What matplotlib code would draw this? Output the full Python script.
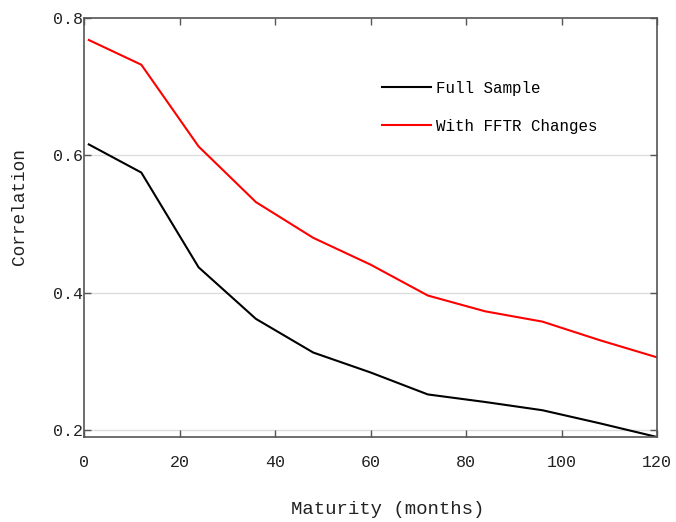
import matplotlib
matplotlib.use("Agg")
import matplotlib.pyplot as plt

# maturities in months
maturity = [1, 12, 24, 36, 48, 60, 72, 84, 96, 108, 120]
full_sample = [0.616, 0.575, 0.437, 0.362, 0.313, 0.284, 0.252, 0.241, 0.229, 0.210, 0.190]
fftr_changes = [0.768, 0.732, 0.613, 0.532, 0.480, 0.441, 0.396, 0.373, 0.358, 0.331, 0.306]

x_ticks = [0, 20, 40, 60, 80, 100, 120]
y_ticks = [0.2, 0.4, 0.6, 0.8]

plt.rcParams['font.family'] = ['Liberation Mono', 'DejaVu Sans Mono']

fig = plt.figure(figsize=(6.76, 5.22), dpi=100)
ax = fig.add_axes([0.1243, 0.1628, 0.8476, 0.8027])

ax.plot(maturity, full_sample, color='black', lw=1.5, label='Full Sample')
ax.plot(maturity, fftr_changes, color='#ff0000', lw=1.5, label='With FFTR Changes')

ax.set_xlim(0, 120)
ax.set_ylim(0.19, 0.8)
ax.set_xticks(x_ticks)
ax.set_yticks(y_ticks)
ax.set_yticklabels(['0.2', '0.4', '0.6', '0.8'])

for y in [0.2, 0.4, 0.6]:
    ax.axhline(y, color='#dddddd', lw=1, zorder=0)

for s in ax.spines.values():
    s.set_color('#555555')
    s.set_linewidth(1.2)

ax.tick_params(axis='x', direction='in', top=True, length=5, width=1, color='#555555',
               labelsize=12, pad=13, labelcolor='#222222')
ax.tick_params(axis='y', direction='in', right=True, length=5, width=1, color='#555555',
               labelsize=12, pad=1, labelcolor='#222222')

ax.set_xlabel('Maturity (months)', fontsize=13.7, labelpad=22, color='#222222', x=0.53)
ax.set_ylabel('Correlation', fontsize=12.8, labelpad=18, color='#222222', y=0.551)

ax.legend(loc='upper left', bbox_to_anchor=(0.52, 0.85), frameon=False,
          fontsize=11.4, handlelength=3.1, handletextpad=0.3, labelspacing=1.45,
          borderpad=0, borderaxespad=0)

fig.savefig('out.png', dpi=100)
